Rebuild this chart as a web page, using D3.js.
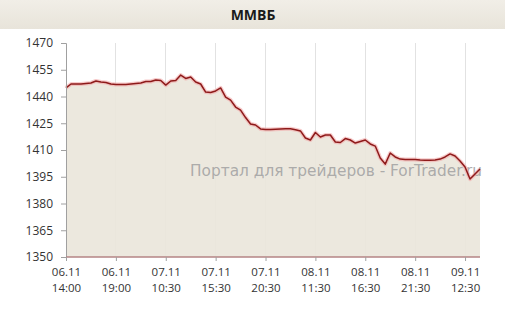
<!DOCTYPE html>
<html><head><meta charset="utf-8">
<script src="https://cdn.jsdelivr.net/npm/d3@7/dist/d3.min.js"></script>
<style>html,body{margin:0;padding:0;background:#fff;}svg{display:block;}</style>
</head><body>
<svg id="c" width="505" height="317"></svg>
<script>
const title = "ММВБ";
const values = [
1444.8,1447.0,1447.0,1447.0,1447.3,1447.6,1448.7,1448.1,1447.9,1447.0,
1446.7,1446.7,1446.7,1447.0,1447.3,1447.6,1448.4,1448.4,1449.3,1449.0,
1446.4,1448.7,1449.0,1452.0,1450.1,1450.9,1448.1,1447.0,1442.5,1442.2,
1443.1,1444.8,1439.7,1438.0,1434.1,1432.4,1428.2,1424.6,1424.0,1421.8,
1421.5,1421.5,1421.7,1421.8,1421.9,1421.9,1421.4,1420.7,1416.7,1415.6,
1419.8,1417.3,1418.4,1418.4,1414.5,1414.2,1416.4,1415.6,1413.9,1414.8,
1415.6,1413.4,1412.2,1405.5,1402.1,1408.3,1406.1,1404.9,1404.7,1404.7,
1404.7,1404.4,1404.2,1404.2,1404.4,1404.9,1406.1,1407.8,1406.6,1403.8,
1400.5,1393.7,1396.5,1399.3
];
const tickIndex = [0,10,20,30,40,50,60,70,80];
const tickDates = ["06.11","06.11","07.11","07.11","07.11","08.11","08.11","08.11","09.11"];
const tickTimes = ["14:00","19:00","10:30","15:30","20:30","11:30","16:30","21:30","12:30"];
const yTicks = [1350,1365,1380,1395,1410,1425,1440,1455,1470];
const watermark = "Портал для трейдеров - ForTrader.ru";

const svg = d3.select("#c");
const x0 = 66, x1 = 480, yTop = 43, yBot = 257;
const x = d3.scalePoint().domain(d3.range(values.length)).range([x0, x1]);
const y = d3.scaleLinear().domain([1350,1470]).range([yBot, yTop]);

// title bar
const grad = svg.append("defs").append("linearGradient").attr("id","tb").attr("x1",0).attr("y1",0).attr("x2",0).attr("y2",1);
grad.append("stop").attr("offset","0%").attr("stop-color","#f1eee7");
grad.append("stop").attr("offset","100%").attr("stop-color","#e8e4da");
svg.append("rect").attr("x",0).attr("y",0).attr("width",505).attr("height",29).attr("fill","url(#tb)");
svg.append("text").attr("x",253).attr("y",20).attr("text-anchor","middle")
  .attr("font-family","Open Sans, DejaVu Sans, sans-serif").attr("font-weight","bold")
  .attr("font-size",14).attr("fill","#1a1a1a").text(title);

// gridlines
svg.append("g").selectAll("line").data(tickIndex.slice(1)).join("line")
  .attr("x1",d=>x(d)).attr("x2",d=>x(d)).attr("y1",yTop).attr("y2",yBot)
  .attr("stroke","#e2e2e2").attr("stroke-width",1).attr("shape-rendering","crispEdges");

// area
const area = d3.area().x((d,i)=>x(i)).y0(y(1350)).y1(d=>y(d));
svg.append("path").datum(values).attr("d",area).attr("fill","#ebe6dc").attr("fill-opacity",0.93);

// watermark
svg.append("text").attr("x",190).attr("y",176).attr("textLength",292).attr("lengthAdjust","spacingAndGlyphs")
  .attr("font-family","DejaVu Sans, Verdana, sans-serif").attr("font-size",16.5)
  .attr("fill","#a3a3a3").attr("fill-opacity",0.9).text(watermark);

// line
const line = d3.line().x((d,i)=>x(i)).y(d=>y(d));
svg.append("path").datum(values).attr("d",line).attr("fill","none")
  .attr("stroke","#f2a8a8").attr("stroke-width",4).attr("stroke-opacity",0.6).attr("stroke-linejoin","round");
svg.append("path").datum(values).attr("d",line).attr("fill","none")
  .attr("stroke","#8e1a1a").attr("stroke-width",1.5).attr("stroke-linejoin","round");

// y axis
const yAxis = d3.axisLeft(y).tickValues(yTicks).tickSize(5).tickPadding(8).tickFormat(d3.format("d"));
const gy = svg.append("g").attr("transform",`translate(${x0},0)`).call(yAxis);
gy.select(".domain").attr("stroke","#a0a0a0");
gy.selectAll(".tick line").attr("stroke","#a0a0a0");
gy.selectAll(".tick text").attr("font-family","Open Sans, DejaVu Sans, sans-serif").attr("font-size",12).attr("fill","#333");

// x axis
const xAxis = d3.axisBottom(x).tickValues(tickIndex).tickSize(4).tickFormat("");
const gx = svg.append("g").attr("transform",`translate(0,${yBot})`).call(xAxis);
gx.select(".domain").attr("stroke","#b58484").attr("stroke-width",1.5).attr("d",`M${x0},0H${x1}`);
gx.selectAll(".tick line").attr("stroke","#a0a0a0");
const lbl = gx.selectAll(".tick").append("text").attr("fill","#333")
  .attr("font-family","Open Sans, DejaVu Sans, sans-serif").attr("font-size",11.5).attr("text-anchor","middle");
lbl.append("tspan").attr("x",0).attr("y",19).text((d,i)=>tickDates[i]);
lbl.append("tspan").attr("x",0).attr("y",35).text((d,i)=>tickTimes[i]);
</script>
</body></html>
